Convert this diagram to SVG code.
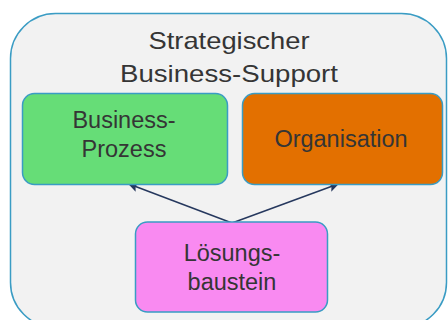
<svg xmlns="http://www.w3.org/2000/svg" width="448" height="320" viewBox="0 0 448 320">
<defs>
<style>
.box{stroke:#3a9cc4;stroke-width:1.5}
.t{font-family:"Liberation Sans",Arial,sans-serif;fill:#353535;text-anchor:middle}
.conn{stroke:#26385e;stroke-width:1.5;fill:none}
</style>
<marker id="ah" viewBox="0 0 10 10" refX="9" refY="5" markerWidth="11" markerHeight="10" markerUnits="userSpaceOnUse" orient="auto">
<path d="M0,0 L10,5 L0,10 L2,5 Z" fill="#26385e"/>
</marker>
</defs>
<g id="container">
<rect class="box" x="10.5" y="13.5" width="436" height="314" rx="45" ry="45" fill="#f2f2f2"/>
<text class="t" font-size="24" x="229" y="48.5" textLength="161" lengthAdjust="spacingAndGlyphs">Strategischer</text>
<text class="t" font-size="24" x="229" y="82" textLength="218" lengthAdjust="spacingAndGlyphs">Business-Support</text>
</g>
<g id="connectors">
<line class="conn" x1="232" y1="223" x2="129" y2="184" marker-end="url(#ah)"/>
<line class="conn" x1="232" y1="223" x2="338" y2="184" marker-end="url(#ah)"/>
</g>
<g id="business-prozess">
<rect class="box" x="22.5" y="93.5" width="205" height="91" rx="12" fill="#66dd77"/>
<text class="t" font-size="23.5" x="124" y="128">Business-</text>
<text class="t" font-size="23.5" x="124" y="157">Prozess</text>
</g>
<g id="organisation">
<rect class="box" x="242.5" y="93.5" width="200" height="91" rx="12" fill="#e37000"/>
<text class="t" font-size="23.5" x="341" y="147">Organisation</text>
</g>
<g id="loesungsbaustein">
<rect class="box" x="135.5" y="222" width="192" height="90" rx="12" fill="#f98af1"/>
<text class="t" font-size="23.5" x="232" y="261">Lösungs-</text>
<text class="t" font-size="23.5" x="232" y="290">baustein</text>
</g>
</svg>
